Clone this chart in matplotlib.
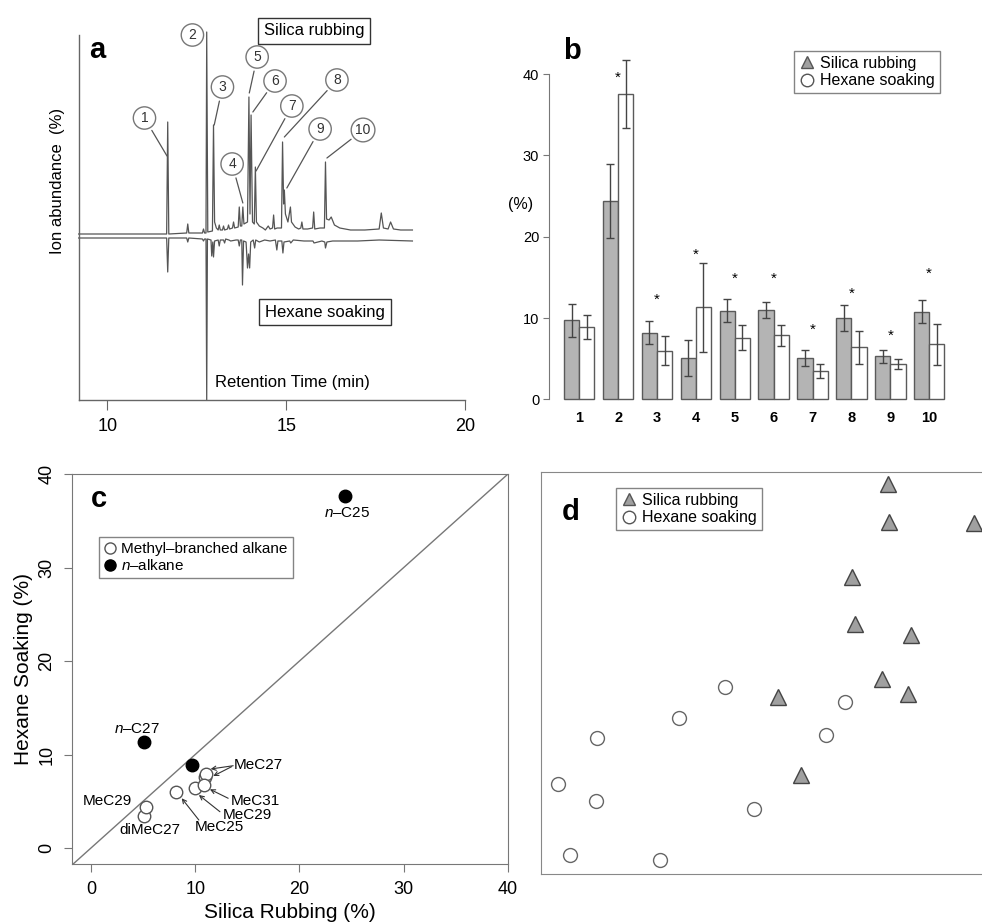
import numpy as np
import matplotlib
matplotlib.use("Agg")
import matplotlib.pyplot as plt
from matplotlib.lines import Line2D

plt.rcParams['font.family'] = ['Liberation Sans', 'DejaVu Sans']
plt.rcParams['mathtext.fontset'] = 'custom'
plt.rcParams['mathtext.rm'] = 'Liberation Sans'
plt.rcParams['mathtext.it'] = 'Liberation Sans:italic'
NARROW = ['Liberation Sans Narrow', 'Liberation Sans', 'DejaVu Sans']

# ---- panel a: chromatogram traces (retention time, ion abundance) ----
silica_t = [9.2, 11.66, 11.69, 11.72, 12.22, 12.25, 12.28, 12.66, 12.69, 12.72, 12.76, 12.78, 12.81,
            12.94, 12.97, 13.0, 13.05, 13.1, 13.13, 13.16, 13.22, 13.25, 13.28, 13.36, 13.39, 13.42,
            13.5, 13.53, 13.56, 13.66, 13.69, 13.72, 13.76, 13.79, 13.82, 13.92, 13.96, 13.99, 14.02,
            14.06, 14.11, 14.14, 14.17, 14.25, 14.35, 14.42, 14.5, 14.55, 14.62, 14.65, 14.68, 14.75,
            14.87, 14.9, 14.93, 14.95, 14.98, 15.05, 15.12, 15.15, 15.25, 15.35, 15.41, 15.44, 15.47,
            15.6, 15.74, 15.77, 15.8, 15.95, 16.07, 16.1, 16.13, 16.2, 16.26, 16.35, 16.5, 16.8, 17.2,
            17.6, 17.66, 17.72, 17.85, 17.92, 18.0, 18.2, 18.53]
silica_y = [0, 0, 112, 0, 1, 10, 1, 1, 5, 1, 1, 202, 2,
            3, 109, 12, 6, 4, 9, 4, 4, 8, 4, 5, 9, 5,
            6, 12, 6, 7, 27, 8, 8, 27, 10, 12, 137, 20, 119,
            12, 10, 67, 12, 8, 6, 4, 8, 5, 6, 19, 5, 6,
            6, 92, 30, 44, 20, 12, 27, 12, 7, 5, 6, 12, 5,
            5, 6, 22, 5, 6, 6, 72, 15, 14, 17, 9, 6, 4, 4,
            5, 21, 6, 5, 12, 5, 4, 4]
hexane_t = [9.2, 11.66, 11.69, 11.72, 12.22, 12.25, 12.28, 12.66, 12.69, 12.72, 12.76, 12.78, 12.8,
            12.9, 12.92, 12.95, 12.97, 13.0, 13.1, 13.13, 13.16, 13.25, 13.28, 13.31, 13.4, 13.45,
            13.6, 13.66, 13.69, 13.72, 13.76, 13.78, 13.81, 13.88, 13.92, 13.95, 13.98, 14.01, 14.08,
            14.12, 14.15, 14.25, 14.4, 14.55, 14.7, 14.74, 14.77, 14.88, 14.91, 14.94, 15.1, 15.13,
            15.2, 15.5, 15.75, 15.78, 16.0, 16.08, 16.1, 16.14, 16.3, 17.0, 17.6, 18.53]
hexane_y = [-4, -4, -38, -4, -4, -8, -4, -5, -7, -5, -5, -166, -5,
            -6, -22, -8, -23, -7, -6, -12, -6, -6, -9, -5, -6, -7,
            -6, -6, -12, -6, -6, -51, -7, -8, -34, -20, -34, -8, -6,
            -14, -6, -8, -6, -7, -6, -16, -7, -7, -19, -8, -7, -9,
            -6, -7, -7, -9, -7, -8, -14, -8, -7, -7, -6, -7]
peak_ids = ['1', '2', '3', '4', '5', '6', '7', '8', '9', '10']

# ---- panel b: relative amounts of the ten compounds ----
compounds = ['1', '2', '3', '4', '5', '6', '7', '8', '9', '10']
silica_mean = [9.7, 24.4, 8.2, 5.1, 10.9, 11.0, 5.1, 10.0, 5.3, 10.8]
silica_err = [2.05, 4.55, 1.4, 2.2, 1.45, 0.95, 1.0, 1.65, 0.8, 1.4]
hexane_mean = [8.9, 37.6, 6.0, 11.3, 7.6, 7.9, 3.45, 6.4, 4.35, 6.75]
hexane_err = [1.5, 4.2, 1.8, 5.5, 1.5, 1.3, 0.85, 2.0, 0.65, 2.5]
star_y = [None, 39.6, 12.3, 17.8, 14.8, 14.8, 8.5, 13.0, 7.8, 15.4]

# ---- panel c: compound classes ----
is_n_alkane = [True, True, False, True, False, False, False, False, False, False]

# ---- panel d: ordination scores ----
d_silica_x = [0.64, 0.645, 1.07, 0.46, 0.475, 0.755, 0.61, 0.09, 0.74, 0.205]
d_silica_y = [0.93, 0.74, 0.735, 0.465, 0.23, 0.175, -0.045, -0.135, -0.12, -0.525]
d_hexane_x = [-0.175, -0.405, -0.815, -1.01, -0.82, -0.95, -0.5, -0.03, 0.33, 0.425]
d_hexane_y = [-0.085, -0.24, -0.34, -0.57, -0.655, -0.925, -0.95, -0.695, -0.325, -0.16]

W, H = 982, 924
fig = plt.figure(figsize=(W / 100, H / 100), dpi=100)


def px_axes(l, t, r, b):
    return fig.add_axes([l / W, 1 - b / H, (r - l) / W, (b - t) / H])


grey = '#555555'

# ================= a =================
ax = px_axes(79, 35, 465, 400)
ax.plot(silica_t, silica_y, color=grey, lw=0.9, clip_on=False)
ax.plot(hexane_t, hexane_y, color=grey, lw=0.9, clip_on=False)
ax.set_xlim(9.21, 20)
ax.set_ylim(-166, 199)
for s in ['top', 'right']:
    ax.spines[s].set_visible(False)
for s in ['left', 'bottom']:
    ax.spines[s].set_color('#666666')
    ax.spines[s].set_linewidth(1.0)
ax.set_yticks([])
ax.set_xticks([10, 15, 20])
ax.tick_params(axis='x', length=7, color='#666666', pad=6)
for lab in ax.get_xticklabels():
    lab.set_family(NARROW)
    lab.set_fontsize(13)
ax.text(-0.055, 0.6, 'Ion abundance  (%)', transform=ax.transAxes, rotation=90,
        ha='center', va='center', family=NARROW, fontsize=12)
ax.text(0.026, 0.96, 'a', transform=ax.transAxes, fontsize=21, fontweight='bold', va='center')

# numbered peak labels (circle centre, leader end)
circ_pos = [(11.04, 116), (12.38, 199), (13.22, 147), (13.49, 70), (14.19, 177),
            (14.69, 153), (15.16, 128), (16.42, 154), (15.95, 105), (17.15, 104)]
lead_end = [(11.67, 78), None, (12.99, 109), (13.79, 31), (13.97, 141),
            (14.07, 122), (14.16, 63), (14.95, 97), (15.02, 46), (16.14, 76)]
for pid, cp, le in zip(peak_ids, circ_pos, lead_end):
    bbox = dict(boxstyle='circle,pad=0.3', fc='white', ec='#777777', lw=1.0)
    if le is None:
        ax.annotate(pid, xy=cp, ha='center', va='center', fontsize=10, bbox=bbox,
                    annotation_clip=False, color='#333333')
    else:
        ax.annotate(pid, xy=le, xytext=cp, ha='center', va='center', fontsize=10, bbox=bbox,
                    annotation_clip=False, color='#333333',
                    arrowprops=dict(arrowstyle='-', color='#555555', lw=0.9, shrinkA=2, shrinkB=0))

ax.text(15.78, 203, 'Silica rubbing', ha='center', va='center', family=NARROW, fontsize=12,
        bbox=dict(boxstyle='square,pad=0.35', fc='white', ec='#333333', lw=1.0), clip_on=False)
ax.text(16.09, -78, 'Hexane soaking', ha='center', va='center', family=NARROW, fontsize=12,
        bbox=dict(boxstyle='square,pad=0.35', fc='white', ec='#333333', lw=1.0))
ax.text(13.02, -149, 'Retention Time (min)', ha='left', va='center', family=NARROW, fontsize=12)

# ================= b =================
bx = px_axes(549, 40, 960, 405)
pos = np.arange(len(compounds)) * 2.55
bx.bar(pos + 0.5, silica_mean, width=1, color='#b4b4b4', edgecolor='#5a5a5a', lw=1.0)
bx.bar(pos + 1.5, hexane_mean, width=1, color='white', edgecolor='#5a5a5a', lw=1.0)
bx.errorbar(pos + 0.5, silica_mean, yerr=silica_err, fmt='none', ecolor='#444444',
            elinewidth=1.0, capsize=3.2, capthick=1.0)
bx.errorbar(pos + 1.5, hexane_mean, yerr=hexane_err, fmt='none', ecolor='#444444',
            elinewidth=1.0, capsize=3.2, capthick=1.0)
for p, sy in zip(pos, star_y):
    if sy is not None:
        bx.text(p + 1.0, sy, '*', ha='center', va='center', fontsize=11)
bx.set_xlim(-0.98, 25.97)
bx.set_ylim(-0.7, 44.2)
bx.set_xticks(pos + 1.0)
bx.set_xticklabels(compounds, fontweight='bold', fontsize=10.5)
bx.tick_params(axis='x', length=0, pad=4)
bx.set_yticks([0, 10, 20, 30, 40])
bx.tick_params(axis='y', length=4, color='#777777', labelsize=10.5, pad=3)
for s in ['top', 'right', 'bottom']:
    bx.spines[s].set_visible(False)
bx.spines['left'].set_bounds(0, 40)
bx.spines['left'].set_color('#777777')
bx.text(-0.07, 0.55, '(%)', transform=bx.transAxes, fontsize=11.5, ha='center', va='center')
bx.text(0.034, 0.97, 'b', transform=bx.transAxes, fontsize=21, fontweight='bold', va='center')
hb = [Line2D([], [], ls='none', marker='^', ms=9, mfc='#a0a0a0', mec='#555555'),
      Line2D([], [], ls='none', marker='o', ms=9, mfc='white', mec='#555555')]
leg = bx.legend(hb, ['Silica rubbing', 'Hexane soaking'], loc='upper left',
                bbox_to_anchor=(794 / W, 1 - 51 / H), bbox_transform=fig.transFigure,
                fontsize=11.5, frameon=True, fancybox=False, handlelength=1.0,
                handletextpad=0.35, borderpad=0.3, labelspacing=0.15, borderaxespad=0)
leg.get_frame().set_edgecolor('#666666')
leg.get_frame().set_linewidth(1.0)

# ================= c =================
cx = px_axes(72, 474, 508, 864)
cx.set_xlim(-1.82, 40)
cx.set_ylim(-1.71, 40)
cx.plot([-2, 40], [-2, 40], color='#777777', lw=1.0)
sm = np.array(silica_mean)
hm = np.array(hexane_mean)
na = np.array(is_n_alkane)
cx.plot(sm[~na], hm[~na], ls='none', marker='o', ms=9, mfc='white', mec='#555555', mew=1.0)
cx.plot(sm[na], hm[na], ls='none', marker='o', ms=9, mfc='black', mec='black')
for s in cx.spines.values():
    s.set_color('#777777')
cx.set_xticks([0, 10, 20, 30, 40])
cx.set_yticks([0, 10, 20, 30, 40])
cx.tick_params(length=6, color='#777777', labelsize=13, pad=6)
cx.tick_params(axis='y', labelrotation=90)
for lab in cx.get_yticklabels():
    lab.set_va('center')
cx.set_xlabel('Silica Rubbing (%)', fontsize=15, labelpad=4)
cx.set_ylabel('Hexane Soaking (%)', fontsize=15, labelpad=4)
cx.text(0.044, 0.935, 'c', transform=cx.transAxes, fontsize=21, fontweight='bold', va='center')

lab_kw = dict(fontsize=11)
cx.text(4.38, 12.7, r'$\mathit{n}$–C27', ha='center', va='center', **lab_kw)
cx.text(24.6, 35.8, r'$\mathit{n}$–C25', ha='center', va='center', **lab_kw)
cx.text(13.74, 8.88, 'MeC27', ha='left', va='center', **lab_kw)
cx.text(13.42, 5.06, 'MeC31', ha='left', va='center', **lab_kw)
cx.text(12.63, 3.53, 'MeC29', ha='left', va='center', **lab_kw)
cx.text(9.97, 2.25, 'MeC25', ha='left', va='center', **lab_kw)
cx.text(3.90, 5.03, 'MeC29', ha='right', va='center', **lab_kw)
cx.text(5.66, 1.89, 'diMeC27', ha='center', va='center', **lab_kw)
arrows = [((13.64, 8.80), (11.48, 8.45)), ((13.49, 8.70), (11.73, 7.70)),
          ((13.16, 5.32), (11.41, 6.28)), ((12.37, 3.88), (10.35, 5.67)),
          ((10.35, 2.99), (8.70, 5.32))]
for a0, a1 in arrows:
    cx.annotate('', xy=a1, xytext=a0,
                arrowprops=dict(arrowstyle='->,head_length=0.3,head_width=0.15', color='#333333',
                                lw=0.8, shrinkA=0, shrinkB=0))
hc = [Line2D([], [], ls='none', marker='o', ms=8, mfc='white', mec='#555555'),
      Line2D([], [], ls='none', marker='o', ms=8, mfc='black', mec='black')]
leg = cx.legend(hc, ['Methyl–branched alkane', r'$\mathit{n}$–alkane'], loc='upper left',
                bbox_to_anchor=(99 / W, 1 - 537 / H), bbox_transform=fig.transFigure,
                fontsize=11, frameon=True, fancybox=False, handlelength=0.8,
                handletextpad=0.3, borderpad=0.35, labelspacing=0.1, borderaxespad=0)
leg.get_frame().set_edgecolor('#666666')
leg.get_frame().set_linewidth(1.0)

# ================= d =================
dx = px_axes(541, 472, 1000, 874)
dx.plot(d_silica_x, d_silica_y, ls='none', marker='^', ms=12, mfc='#a0a0a0', mec='#444444',
        mew=1.0)
dx.plot(d_hexane_x, d_hexane_y, ls='none', marker='o', ms=10, mfc='white', mec='#666666',
        mew=1.0)
dx.set_xlim(-1.095, 1.2)
dx.set_ylim(-1.02, 0.99)
dx.set_xticks([])
dx.set_yticks([])
for s in dx.spines.values():
    s.set_color('#888888')
dx.text(0.045, 0.9, 'd', transform=dx.transAxes, fontsize=21, fontweight='bold', va='center')
hd = [Line2D([], [], ls='none', marker='^', ms=9, mfc='#a0a0a0', mec='#555555'),
      Line2D([], [], ls='none', marker='o', ms=9, mfc='white', mec='#555555')]
leg = dx.legend(hd, ['Silica rubbing', 'Hexane soaking'], loc='upper left',
                bbox_to_anchor=(616 / W, 1 - 488 / H), bbox_transform=fig.transFigure,
                fontsize=11.5, frameon=True, fancybox=False, handlelength=1.0,
                handletextpad=0.35, borderpad=0.3, labelspacing=0.15, borderaxespad=0)
leg.get_frame().set_edgecolor('#666666')
leg.get_frame().set_linewidth(1.0)

fig.savefig('out.png', dpi=100)
